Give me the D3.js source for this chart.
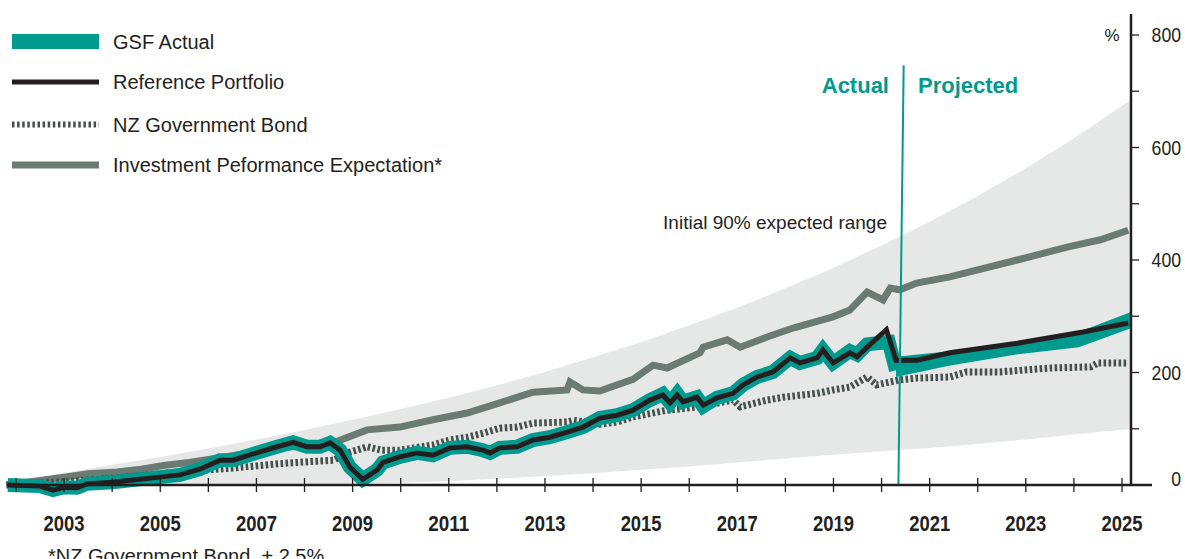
<!DOCTYPE html>
<html lang="en">
<head>
<meta charset="UTF-8">
<title>GSF performance</title>
<script src="https://cdn.jsdelivr.net/npm/d3@7/dist/d3.min.js"></script>
<style>
  body { margin: 0; background: #fff; }
  svg text { font-family: "Liberation Sans", Arial, sans-serif; fill: #231f20; }
</style>
</head>
<body>
<script>
// ---- data (values in %, time in decimal years) ----
var years = d3.range(2002, 2026);
var labelYears = [2003, 2005, 2007, 2009, 2011, 2013, 2015, 2017, 2019, 2021, 2023, 2025];
var yTicks = [0, 100, 200, 300, 400, 500, 600, 700, 800];
var yLabels = [0, 200, 400, 600, 800];

// initial 90% expected range
var bandYears = [2001.8, 2003, 2004, 2005, 2006, 2007, 2008, 2009, 2010, 2011, 2012, 2013, 2014, 2015, 2016, 2017, 2018, 2019, 2020, 2021, 2022, 2023, 2024, 2025.2];
var bandHigh  = [0, 22, 36, 50, 65, 81, 98, 116, 135, 155, 177, 201, 227, 254, 284, 315, 350, 386, 426, 468, 514, 563, 616, 686];
var bandLow   = [0, 0, 0, 0, 0, 0, 0, 1.5, 4, 7, 11, 16, 21, 27, 33, 40, 47, 54, 60, 66, 73, 81, 90, 100];

var expectation = [[2001.8,0],[2002.5,8],[2003.0,14],[2003.5,20],[2004.1,23],[2004.6,28],[2005.1,35],[2005.6,40],
  [2006.2,48],[2006.8,56],[2007.4,65],[2008.0,70],[2008.6,75],[2009.3,98],[2009.98,103],[2010.67,116],[2011.38,128],
  [2012.06,146],[2012.75,165],[2013.46,169],[2013.52,183],[2013.79,169],[2014.14,167],[2014.83,188],[2015.25,213],
  [2015.54,208],[2016.22,235],[2016.29,245],[2016.79,258],[2017.06,245],[2017.62,263],[2018.16,279],[2018.99,299],
  [2019.34,311],[2019.70,343],[2020.03,329],[2020.18,350],[2020.38,347],[2020.73,359],[2021.42,370],[2022.82,400],
  [2023.86,423],[2024.55,436],[2025.13,453]];

var bond = [[2001.8,0],[2003.0,6],[2004.0,12],[2005.0,20],[2005.8,26],[2006.5,30],[2007.0,34],[2007.5,38],[2008.0,41],
  [2008.6,44],[2008.9,57],[2009.3,68],[2009.6,62],[2009.98,62],[2010.67,71],[2011.02,80],[2011.38,85],[2011.71,92],
  [2012.06,101],[2012.42,103],[2012.75,110],[2013.46,112],[2013.6,115],[2014.14,108],[2014.5,112],[2014.83,121],
  [2015.54,133],[2016.22,139],[2016.91,151],[2017.06,139],[2017.62,151],[2017.95,156],[2018.66,163],[2018.99,169],
  [2019.34,174],[2019.70,192],[2019.9,178],[2020.38,187],[2020.73,190],[2021.42,192],[2021.77,201],[2022.46,201],
  [2023.5,208],[2024.35,210],[2024.5,217],[2025.13,217]];

var reference = [[2001.83,0],[2002.5,-2],[2002.77,-9],[2003.0,-4],[2003.27,-5],[2003.47,2],[2004.01,5],[2004.43,9],
  [2004.99,14],[2005.41,18],[2005.82,28],[2006.24,44],[2006.51,44],[2007.07,59],[2007.43,68],[2007.76,76],[2008.05,68],
  [2008.32,68],[2008.53,75],[2008.74,62],[2008.94,32],[2009.21,10],[2009.51,27],[2009.63,40],[2009.98,50],[2010.34,57],
  [2010.67,53],[2011.02,66],[2011.38,68],[2011.71,62],[2011.86,57],[2012.06,66],[2012.42,68],[2012.75,80],[2013.1,85],
  [2013.46,94],[2013.79,103],[2014.14,119],[2014.5,124],[2014.83,133],[2015.18,151],[2015.45,160],[2015.6,146],
  [2015.75,160],[2015.87,148],[2016.16,156],[2016.29,142],[2016.58,155],[2016.91,163],[2017.12,178],[2017.41,192],
  [2017.74,201],[2018.1,226],[2018.3,217],[2018.66,226],[2018.78,240],[2018.99,217],[2019.34,235],[2019.49,228],
  [2019.7,245],[2020.1,276],[2020.3,222],[2020.74,222],[2021.42,235],[2022.82,252],[2024.19,272],[2025.13,288]];

var gsfActual = [[2001.83,0],[2002.5,-2],[2002.77,-9],[2003.0,-4],[2003.27,-5],[2003.47,2],[2004.01,5],[2004.43,9],
  [2004.99,14],[2005.41,18],[2005.82,28],[2006.24,44],[2006.51,44],[2007.07,59],[2007.43,68],[2007.76,76],[2008.05,68],
  [2008.32,68],[2008.53,75],[2008.74,62],[2008.94,32],[2009.21,10],[2009.51,27],[2009.63,40],[2009.98,50],[2010.34,57],
  [2010.67,53],[2011.02,66],[2011.38,68],[2011.71,62],[2011.86,57],[2012.06,66],[2012.42,68],[2012.75,80],[2013.1,85],
  [2013.46,94],[2013.79,103],[2014.14,119],[2014.5,124],[2014.83,133],[2015.18,151],[2015.45,162],[2015.6,146],
  [2015.75,162],[2015.87,148],[2016.16,156],[2016.29,140],[2016.58,155],[2016.91,163],[2017.12,178],[2017.41,192],
  [2017.74,201],[2018.1,226],[2018.3,217],[2018.66,226],[2018.78,240],[2018.99,217],[2019.34,238],[2019.49,232],
  [2019.7,250],[2019.9,252],[2020.15,254],[2020.3,204]];

// projected GSF range
var projYears = [2020.3, 2021.4, 2022.8, 2024.1, 2025.2];
var projHigh  = [228, 238, 254, 272, 308];
var projLow   = [192, 212, 232, 245, 279];

var divider = [[2020.46, 746], [2020.35, 0]];
var legendNames = ["GSF Actual", "Reference Portfolio", "NZ Government Bond", "Investment Peformance Expectation*"];

// ---- drawing ----
var teal = "#009a8f", ink = "#231f20", sage = "#6b7b73", bondCol = "#47514c";
var svg = d3.select("body").append("svg").attr("width", 1185).attr("height", 559);

var x = d3.scaleLinear().domain([2002, 2025]).range([16, 1122]);
var y = d3.scaleLinear().domain([0, 800]).range([485, 35]);

var band = bandYears.map(function (t, i) { return {t: t, lo: bandLow[i], hi: bandHigh[i]}; });
svg.append("path").datum(band).attr("fill", "#e6e8e7")
  .attr("d", d3.area().x(function (d) { return x(d.t); }).y0(function (d) { return y(d.lo); }).y1(function (d) { return y(d.hi); }));

var line = d3.line().x(function (d) { return x(d[0]); }).y(function (d) { return y(d[1]); });

svg.append("path").datum(expectation).attr("fill", "none").attr("stroke", sage).attr("stroke-width", 7).attr("d", line);
svg.append("path").datum(bond).attr("fill", "none").attr("stroke", bondCol).attr("stroke-width", 7)
  .attr("stroke-dasharray", "2.6,2.4").attr("d", line);

var proj = projYears.map(function (t, i) { return {t: t, lo: projLow[i], hi: projHigh[i]}; });
svg.append("path").datum(proj).attr("fill", teal)
  .attr("d", d3.area().x(function (d) { return x(d.t); }).y0(function (d) { return y(d.lo); }).y1(function (d) { return y(d.hi); }));
svg.append("path").datum(gsfActual).attr("fill", "none").attr("stroke", teal).attr("stroke-width", 14).attr("d", line);
svg.append("path").datum(reference).attr("fill", "none").attr("stroke", ink).attr("stroke-width", 5).attr("d", line);

// divider between actual and projected
svg.append("line").attr("x1", x(divider[0][0])).attr("y1", y(divider[0][1]))
  .attr("x2", x(divider[1][0])).attr("y2", y(divider[1][1]))
  .attr("stroke", teal).attr("stroke-width", 2);
svg.append("text").attr("x", 889).attr("y", 93).attr("text-anchor", "end")
  .style("font-weight", "bold").style("font-size", "22px").style("fill", teal).text("Actual");
svg.append("text").attr("x", 918).attr("y", 93)
  .style("font-weight", "bold").style("font-size", "22px").style("fill", teal).text("Projected");
svg.append("text").attr("x", 887).attr("y", 229).attr("text-anchor", "end")
  .style("font-size", "19px").text("Initial 90% expected range");

// x axis
var xg = svg.append("g");
xg.append("line").attr("x1", 7).attr("x2", 1152).attr("y1", 485).attr("y2", 485)
  .attr("stroke", ink).attr("stroke-width", 2.5);
xg.selectAll(".xt").data(years).enter().append("line").attr("class", "xt")
  .attr("x1", function (d) { return x(d); }).attr("x2", function (d) { return x(d); })
  .attr("y1", 478).attr("y2", 492).attr("stroke", ink).attr("stroke-width", 1.3);
xg.selectAll(".xl").data(labelYears).enter().append("text").attr("class", "xl")
  .attr("x", function (d) { return x(d); }).attr("y", 531).attr("text-anchor", "middle")
  .attr("textLength", 41).attr("lengthAdjust", "spacingAndGlyphs")
  .style("font-family", "'Liberation Sans Narrow', 'Liberation Sans', Arial, sans-serif")
  .style("font-weight", "bold").style("font-size", "22px").text(function (d) { return d; });

// y axis (right)
var yg = svg.append("g");
yg.append("line").attr("x1", 1131).attr("x2", 1131).attr("y1", 14).attr("y2", 485)
  .attr("stroke", ink).attr("stroke-width", 2.5);
yg.selectAll(".yt").data(yTicks.slice(1)).enter().append("line").attr("class", "yt")
  .attr("x1", 1131).attr("x2", 1139).attr("y1", function (d) { return y(d); }).attr("y2", function (d) { return y(d); })
  .attr("stroke", ink).attr("stroke-width", 1.3);
yg.selectAll(".yl").data(yLabels).enter().append("text").attr("class", "yl")
  .attr("x", 1181).attr("y", function (d) { return y(d) + (d === 0 ? -6 : 0); }).attr("dy", "0.36em")
  .attr("text-anchor", "end")
  .attr("textLength", function (d) { return String(d).length * 9.8; }).attr("lengthAdjust", "spacingAndGlyphs")
  .style("font-family", "'Liberation Sans Narrow', 'Liberation Sans', Arial, sans-serif")
  .style("font-size", "20px").text(function (d) { return d; });
yg.append("text").attr("x", 1112).attr("y", y(800)).attr("dy", "0.36em").attr("text-anchor", "middle")
  .style("font-size", "17px").text("%");

// legend
var lg = svg.append("g");
var rowY = [41.5, 82, 124.5, 165];
lg.append("rect").attr("x", 12).attr("y", rowY[0] - 7.5).attr("width", 87).attr("height", 15).attr("fill", teal);
lg.append("rect").attr("x", 12).attr("y", rowY[1] - 2.5).attr("width", 87).attr("height", 5).attr("fill", ink);
lg.append("line").attr("x1", 12).attr("x2", 99).attr("y1", rowY[2]).attr("y2", rowY[2])
  .attr("stroke", bondCol).attr("stroke-width", 6).attr("stroke-dasharray", "2.5,2.6");
lg.append("rect").attr("x", 12).attr("y", rowY[3] - 3.5).attr("width", 87).attr("height", 7).attr("fill", sage);
lg.selectAll(".lt").data(legendNames).enter().append("text").attr("class", "lt")
  .attr("x", 113).attr("y", function (d, i) { return rowY[i] + 7; })
  .style("font-size", "20px").text(function (d) { return d; });

// footnote
svg.append("text").attr("x", 48).attr("y", 563).attr("xml:space", "preserve").style("white-space", "pre")
  .style("font-size", "20px").text("*NZ Government Bond  + 2.5%");
</script>
</body>
</html>
